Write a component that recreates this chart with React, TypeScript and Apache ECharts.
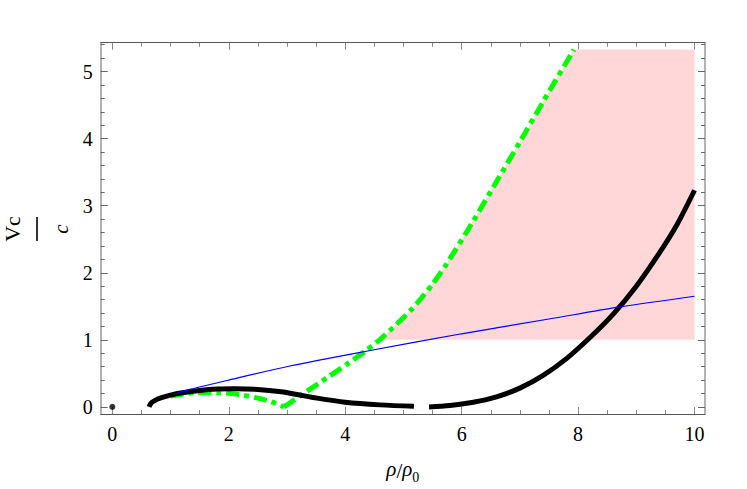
import React, { useEffect, useRef } from 'react';
import * as echarts from 'echarts';

// Tick values
const xMajor = [0, 2, 4, 6, 8, 10];
const xMinor = [0.5, 1, 1.5, 2.5, 3, 3.5, 4.5, 5, 5.5, 6.5, 7, 7.5, 8.5, 9, 9.5];
const yMajor = [0, 1, 2, 3, 4, 5];
const yMinor = [0.2, 0.4, 0.6, 0.8, 1.2, 1.4, 1.6, 1.8, 2.2, 2.4, 2.6, 2.8, 3.2, 3.4, 3.6, 3.8, 4.2, 4.4, 4.6, 4.8, 5.2, 5.4];

// Black solid curve, two branches
const blackLeft: number[][] = [
  [0.63, 0], [0.66, 0.05], [0.72, 0.09], [0.82, 0.13], [1.0, 0.175], [1.2, 0.21], [1.5, 0.245],
  [1.8, 0.265], [2.1, 0.27], [2.5, 0.26], [2.9, 0.225], [3.2, 0.18], [3.45, 0.14], [4.0, 0.07],
  [4.6, 0.03], [5.18, 0.01],
];
const blackRight: number[][] = [
  [5.44, 0], [5.8, 0.02], [6.2, 0.07], [6.6, 0.15], [7.0, 0.28], [7.4, 0.47], [7.8, 0.72],
  [8.2, 1.03], [8.6, 1.38], [9.0, 1.8], [9.4, 2.3], [9.7, 2.72], [10, 3.23],
];
// Green dash-dot curve
const greenLeft: number[][] = [
  [1.0, 0.16], [1.4, 0.21], [1.8, 0.215], [2.2, 0.18], [2.5, 0.13], [2.75, 0.07], [2.95, 0.0],
];
const greenRight: number[][] = [
  [2.95, 0.0], [3.27, 0.19], [3.73, 0.46], [4.02, 0.63], [4.36, 0.84], [4.59, 1.0], [4.82, 1.18],
  [5.16, 1.47], [5.5, 1.83], [5.74, 2.13], [6.2, 2.77], [6.6, 3.36], [7.0, 3.95], [7.4, 4.55],
  [7.93, 5.33],
];
// Blue thin line
const blueLine: number[][] = [
  [1.1, 0.2], [1.33, 0.26], [2.0, 0.4], [3.05, 0.61], [4.36, 0.83], [6.0, 1.09], [7.5, 1.31],
  [8.72, 1.49], [10, 1.65],
];
// Isolated point
const dotPoint: number[][] = [[0, 0]];
// Shaded region bounds
const regionBottom = 1;
const regionTop = 5.33;
const regionRight = 10;

const FONT = "'Liberation Serif', 'Times New Roman', serif";

export default function App() {
  const ref = useRef<HTMLDivElement>(null);
  useEffect(() => {
    document.body.style.margin = '0';
    const chart = echarts.init(ref.current!, null, { renderer: 'svg' });
    const xr = { min: -0.2, max: 10.18 };
    const yr = { min: -0.106, max: 5.43 };
    const hLine = { color: '#555', width: 1 };
    const vLine = { color: '#999', width: 1.5 };
    const pinkPts = [
      ...greenRight.filter((p) => p[1] >= regionBottom),
      [regionRight, regionTop],
      [regionRight, regionBottom],
    ];
    const xAxisBase = (position: string, major: boolean, showLine: boolean, labels: boolean) => ({
      type: 'value',
      ...xr,
      position,
      splitLine: { show: false },
      axisLine: { show: showLine, onZero: false, lineStyle: hLine },
      axisTick: {
        show: true,
        inside: true,
        length: major ? 7 : 4,
        customValues: major ? xMajor : xMinor,
        lineStyle: { color: '#888', width: 1 },
      },
      axisLabel: labels
        ? { show: true, customValues: xMajor, fontFamily: FONT, fontSize: 20, color: '#000', margin: 10 }
        : { show: false },
    });
    const yAxisBase = (position: string, major: boolean, showLine: boolean, labels: boolean) => ({
      type: 'value',
      ...yr,
      position,
      splitLine: { show: false },
      axisLine: { show: showLine, onZero: false, lineStyle: vLine },
      axisTick: {
        show: true,
        inside: true,
        length: major ? 7 : 4,
        customValues: major ? yMajor : yMinor,
        lineStyle: { color: '#666', width: 1 },
      },
      axisLabel: labels
        ? { show: true, customValues: yMajor, fontFamily: FONT, fontSize: 20, color: '#000', margin: 8 }
        : { show: false },
    });
    const xMain: any = xAxisBase('bottom', true, true, true);
    xMain.name = '{i|ρ}/{i|ρ}{s|0}';
    xMain.nameLocation = 'middle';
    xMain.nameGap = 44;
    xMain.nameTextStyle = {
      fontFamily: FONT,
      fontSize: 21,
      color: '#000',
      rich: {
        i: { fontFamily: FONT, fontSize: 21, fontStyle: 'italic', color: '#000', lineHeight: 26, verticalAlign: 'top' },
        s: { fontFamily: FONT, fontSize: 14, color: '#000', lineHeight: 14, verticalAlign: 'bottom' },
      },
    };

    chart.setOption({
      animation: false,
      grid: { left: 100.7, top: 42.7, right: 42, bottom: 73, containLabel: false },
      xAxis: [
        xMain,
        xAxisBase('bottom', false, false, false),
        xAxisBase('top', true, true, false),
        xAxisBase('top', false, false, false),
      ],
      yAxis: [
        yAxisBase('left', true, true, true),
        yAxisBase('left', false, false, false),
        yAxisBase('right', true, true, false),
        yAxisBase('right', false, false, false),
      ],
      graphic: [
        {
          type: 'group',
          x: 37,
          y: 229,
          rotation: Math.PI / 2,
          children: [
            {
              type: 'text',
              x: 0,
              y: -25,
              style: { text: 'Vc', font: `22px ${FONT}`, fill: '#000', align: 'center', verticalAlign: 'middle' },
            },
            { type: 'rect', shape: { x: -12, y: -0.8, width: 24, height: 1.6 }, style: { fill: '#000' } },
            {
              type: 'text',
              x: 0,
              y: 24,
              style: { text: 'c', font: `italic 21px ${FONT}`, fill: '#000', align: 'center', verticalAlign: 'middle' },
            },
          ],
        },
      ],
      series: [
        {
          type: 'custom',
          xAxisIndex: 0,
          yAxisIndex: 0,
          silent: true,
          clip: true,
          z: 1,
          data: [[0, 0]],
          renderItem: (_params: any, api: any) => ({
            type: 'polygon',
            shape: { points: pinkPts.map((p) => api.coord(p)) },
            style: { fill: '#ffd7d8' },
          }),
        },
        {
          type: 'line', data: greenLeft, symbol: 'none', smooth: 0.3, z: 3,
          lineStyle: { color: '#00ff00', width: 5, type: [13, 5, 5, 5] },
        },
        {
          type: 'line', data: greenRight, symbol: 'none', smooth: 0.2, z: 3,
          lineStyle: { color: '#00ff00', width: 5, type: [13, 5, 5, 5] },
        },
        {
          type: 'line', data: blackLeft, symbol: 'none', smooth: 0.3, z: 4,
          lineStyle: { color: '#000', width: 5 },
        },
        {
          type: 'line', data: blackRight, symbol: 'none', smooth: 0.3, z: 4,
          lineStyle: { color: '#000', width: 5 },
        },
        {
          type: 'line', data: blueLine, symbol: 'none', smooth: 0.3, z: 5,
          lineStyle: { color: '#0000ff', width: 1.2 },
        },
        {
          type: 'scatter', data: dotPoint, symbol: 'circle', symbolSize: 6, z: 6,
          itemStyle: { color: '#000' },
        },
      ],
    });
    return () => chart.dispose();
  }, []);
  return <div ref={ref} style={{ width: 747, height: 489 }} />;
}
